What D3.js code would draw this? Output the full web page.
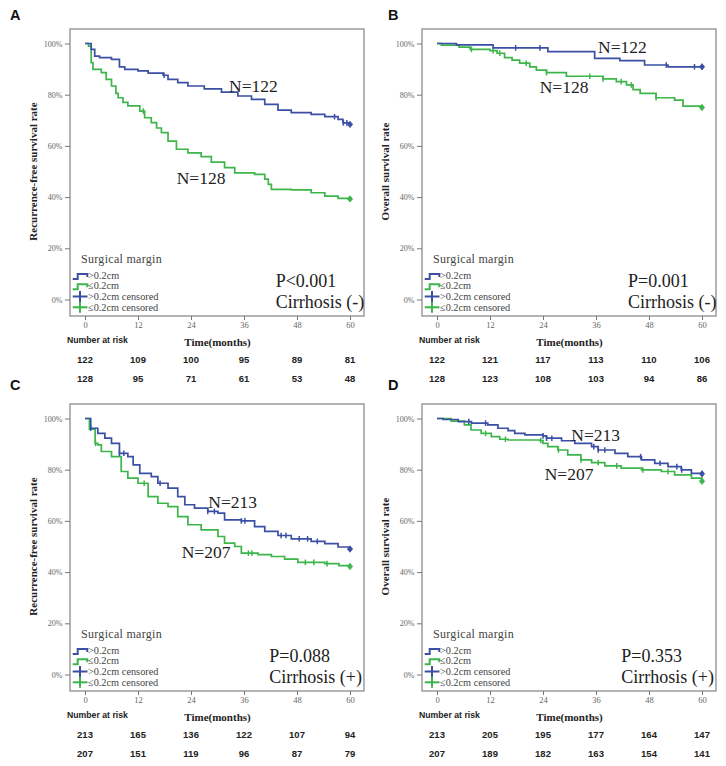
<!DOCTYPE html>
<html><head><meta charset="utf-8">
<script src="https://cdn.jsdelivr.net/npm/d3@7"></script>
<style>
html,body{margin:0;padding:0;background:#fff;}
svg{display:block;}
</style></head>
<body>
<svg id="chart" width="726" height="766"></svg>
<script>
// ---------- DATA ----------
const xTicks = [0, 12, 24, 36, 48, 60];
const yTicks = [0, 20, 40, 60, 80, 100];
const legendLabels = [">0.2cm", "\u22640.2cm", ">0.2cm censored", "\u22640.2cm censored"];

// Survival step curves [time (months), survival %]
const A_blue = [[0,100],[1.4,97.7],[2.2,95.1],[3.3,94.5],[6,93.8],[7.8,90.9],[9,89.9],[12,89.3],[14.3,88.4],[17.7,87.6],[18.8,86],[21,84.7],[23.3,83.4],[27,82.3],[30.9,81],[34.6,79.5],[37.7,78.2],[40.7,76.2],[43.7,74],[46.7,73],[51.2,72.3],[54.3,71.4],[57.3,70.4],[58.4,69],[60,68.4]];
const A_green = [[0,100],[0.8,99],[1.4,92.5],[1.8,89.9],[3.7,88.6],[4.8,86],[6,83.4],[7,80.5],[7.5,78.8],[8.6,77],[9.7,75.6],[12.4,73.6],[13.5,71],[15,69.1],[16.2,67],[17.3,65.2],[18.8,61.9],[20.7,58.7],[23.3,57.3],[26.3,55.8],[28.6,53.7],[31.6,51.5],[33.9,49.5],[38.4,48.9],[40.7,47],[41.5,45],[42.2,43],[46.7,42.8],[51.2,41.7],[54.3,40.4],[57.3,39.5],[60,39.3]];
const B_blue = [[0,100],[4.4,99.5],[12.7,98.3],[25.1,96.8],[35.7,94.2],[41.4,93.3],[47,91.6],[52.3,90.9],[60,90.9]];
const B_green = [[0,100],[1,99.4],[5,98.6],[7.5,97.7],[12,97.2],[13.6,96.2],[15.3,94.5],[17,93.5],[18.7,92.3],[21,90.9],[22.5,89.6],[24.8,88.6],[29.3,87.2],[37.6,86.2],[40.6,85.1],[42.9,83.8],[44.4,82],[46,80.5],[49.6,78.8],[53.8,77.9],[55.7,75.5],[60,75]];
const C_blue = [[0,100],[1.3,96.2],[2.9,94.2],[4.5,92.3],[6,90.3],[7.8,86.4],[9.7,85.1],[10.9,81.9],[12.4,78.6],[15,77.3],[16.5,74.7],[18.8,72.8],[21,69.5],[22.6,66.3],[24.8,65],[27.8,63.7],[30.1,63],[31.6,60.4],[35.4,60],[38.4,57.8],[40.7,55.9],[43.7,54.3],[46.7,53],[51.2,52],[54.3,51.1],[57.3,49.8],[60,49]];
const C_green = [[0,100],[1,95.8],[2.3,90.3],[2.9,89.7],[3.7,87.1],[6,85.1],[8.2,79.3],[9.7,76.7],[12,74.7],[14.3,69.5],[16.5,66.9],[18.8,65.6],[21,61.7],[23.3,58.5],[26.3,56.5],[30.1,53.9],[31.6,51.3],[33.9,50],[35.4,47.4],[39.2,46.8],[42.2,46.1],[45.2,45.1],[48.2,43.8],[54.3,43.3],[57.5,42.5],[60,42.2]];
const D_blue = [[0,100],[1.4,99.6],[4.8,98.8],[7.8,98.2],[11.5,97.5],[13.8,96.2],[16.1,95.3],[17.6,94.2],[19.9,93.6],[24,93.2],[24.8,92.3],[28.2,91.3],[31.2,90.3],[35,89],[36.5,87.7],[40.3,86.4],[43.2,85.1],[46.3,83.8],[49.3,82.5],[52.3,81.2],[55.3,79.9],[57.6,78.6],[60,78.4]];
const D_green = [[0,100],[3.2,99],[6.2,97.5],[7.7,95.5],[10,94.2],[12.3,92.9],[14.2,91.9],[16.1,91.6],[23.2,91.4],[24,90.3],[25.1,89],[27.4,87.7],[29.6,85.8],[32.6,83.8],[35,82.8],[38,81.5],[41.7,80.6],[46.3,79.9],[50.8,79.3],[53.8,78],[57.6,76.7],[60,75.5]];

// Censoring times (months)
const A_blue_c = [17.9, 56.5, 58.5, 59.3, 60];
const A_green_c = [13.2, 60];
const B_blue_c = [17.8, 23.3, 51.9, 58.3, 60];
const B_green_c = [7.8, 12.7, 14.2, 20.2, 24.8, 34.6, 37.6, 41.7, 44, 49.6, 60];
const C_blue_c = [1.3, 7.8, 8.8, 17, 27.8, 29.3, 35.4, 36.2, 44.4, 45.5, 48.5, 50.4, 52.6, 60];
const C_green_c = [2.4, 13.4, 37, 37.8, 49.9, 51.8, 54.8, 60];
const D_blue_c = [7.2, 11, 24, 24.8, 26, 35.5, 36.5, 38, 46.1, 50.5, 54.3, 55.4, 60];
const D_green_c = [11, 15.5, 23.5, 27.5, 32.6, 36.5, 40.7, 46.6, 52.3, 60];

// Number at risk
const A_risk_blue = [122, 109, 100, 95, 89, 81];
const A_risk_green = [128, 95, 71, 61, 53, 48];
const B_risk_blue = [122, 121, 117, 113, 110, 106];
const B_risk_green = [128, 123, 108, 103, 94, 86];
const C_risk_blue = [213, 165, 136, 122, 107, 94];
const C_risk_green = [207, 151, 119, 96, 87, 79];
const D_risk_blue = [213, 205, 195, 177, 164, 147];
const D_risk_green = [207, 189, 182, 163, 154, 141];

const panelLetters = ["A", "B", "C", "D"];
const yLabels = ["Recurrence-free survival rate", "Overall survival rate", "Recurrence-free survival rate", "Overall survival rate"];
const pValues = ["P<0.001", "P=0.001", "P=0.088", "P=0.353"];
const cirrhosis = ["Cirrhosis (-)", "Cirrhosis (-)", "Cirrhosis (+)", "Cirrhosis (+)"];

// ---------- LAYOUT ----------
const BLUE = "#3b4fa5", GREEN = "#3cb54a";
const serif = "'Liberation Serif','Times New Roman',serif";
const sans = "'Liberation Sans',Arial,sans-serif";

const panels = [
  {letter: panelLetters[0], ox: 70, oy: 29, lx: 10, ly: 20, blue: A_blue, green: A_green, bc: A_blue_c, gc: A_green_c, rb: A_risk_blue, rg: A_risk_green, yl: yLabels[0], p: pValues[0], cz: cirrhosis[0], nb: [159, 62.5], ng: [106.7, 155], px: 205.7},
  {letter: panelLetters[1], ox: 422, oy: 29, lx: 388, ly: 20, blue: B_blue, green: B_green, bc: B_blue_c, gc: B_green_c, rb: B_risk_blue, rg: B_risk_green, yl: yLabels[1], p: pValues[1], cz: cirrhosis[1], nb: [176, 24.3], ng: [117.7, 63.7], px: 206},
  {letter: panelLetters[2], ox: 70, oy: 404, lx: 10, ly: 390, blue: C_blue, green: C_green, bc: C_blue_c, gc: C_green_c, rb: C_risk_blue, rg: C_risk_green, yl: yLabels[2], p: pValues[2], cz: cirrhosis[2], nb: [138.3, 104.3], ng: [111.7, 154.3], px: 199.3},
  {letter: panelLetters[3], ox: 422, oy: 404, lx: 388, ly: 390, blue: D_blue, green: D_green, bc: D_blue_c, gc: D_green_c, rb: D_risk_blue, rg: D_risk_green, yl: yLabels[3], p: pValues[3], cz: cirrhosis[3], nb: [149.3, 37], ng: [122.7, 76], px: 199.3}
];

const FW = 294, FH = 287;
const svg = d3.select("#chart");

function stepValue(curve, t) {
  let v = curve[0][1];
  for (const d of curve) { if (d[0] <= t) v = d[1]; }
  return v;
}

panels.forEach(P => {
  const g = svg.append("g");
  const x = d3.scaleLinear().domain([0, 60]).range([P.ox + 15, P.ox + 280]);
  const y = d3.scaleLinear().domain([0, 100]).range([P.oy + 270.5, P.oy + 14.5]);

  // panel letter
  g.append("text").attr("x", P.lx).attr("y", P.ly).text(P.letter)
    .attr("font-family", sans).attr("font-weight", "bold").attr("font-size", 14.5).attr("fill", "#111");

  // frame
  g.append("rect").attr("x", P.ox).attr("y", P.oy).attr("width", FW).attr("height", FH)
    .attr("fill", "#fff").attr("stroke", "#8c8c8c").attr("stroke-width", 1.3);

  // y axis
  const yAxis = d3.axisLeft(y).tickValues(yTicks).tickSize(5).tickFormat(d => d + "%");
  const ya = g.append("g").attr("transform", `translate(${P.ox},0)`).call(yAxis);
  ya.select(".domain").remove();
  ya.selectAll("line").attr("stroke", "#777").attr("stroke-width", 1);
  ya.selectAll("text").attr("font-family", serif).attr("font-size", 8).attr("fill", "#666").attr("dx", 0.5);

  // x axis
  const xAxis = d3.axisBottom(x).tickValues(xTicks).tickSize(4).tickFormat(d3.format("d"));
  const xa = g.append("g").attr("transform", `translate(0,${P.oy + FH})`).call(xAxis);
  xa.select(".domain").remove();
  xa.selectAll("line").attr("stroke", "#777").attr("stroke-width", 1);
  xa.selectAll("text").attr("font-family", serif).attr("font-size", 8.5).attr("fill", "#666").attr("dy", "0.55em");

  // y label
  const ymid = (y(0) + y(100)) / 2;
  g.append("text").attr("transform", `translate(${P.ox - 33.5},${ymid}) rotate(-90)`)
    .attr("text-anchor", "middle").text(P.yl)
    .attr("font-family", serif).attr("font-weight", "bold").attr("font-size", 11).attr("fill", "#222");

  // curves
  const line = d3.line().x(d => x(d[0])).y(d => y(d[1])).curve(d3.curveStepAfter);
  [[P.green, GREEN, P.gc], [P.blue, BLUE, P.bc]].forEach(([curve, col, cens]) => {
    g.append("path").datum(curve).attr("d", line).attr("fill", "none")
      .attr("stroke", col).attr("stroke-width", 1.7).attr("stroke-linejoin", "miter");
    cens.forEach(t => {
      const cx = x(t), cy = y(stepValue(curve, t));
      if (t >= 60) {
        g.append("path").attr("d", `M${cx},${cy - 3.2}L${cx + 2.6},${cy}L${cx},${cy + 3.2}L${cx - 2.6},${cy}Z`)
          .attr("fill", col).attr("stroke", col).attr("stroke-width", 0.8);
      } else {
        g.append("line").attr("x1", cx).attr("x2", cx).attr("y1", cy - 2.8).attr("y2", cy + 2.8)
          .attr("stroke", col).attr("stroke-width", 1.5);
      }
    });
  });

  // N labels
  g.append("text").attr("x", P.ox + P.nb[0]).attr("y", P.oy + P.nb[1]).text("N=" + P.rb[0])
    .attr("font-family", serif).attr("font-size", 17.5).attr("fill", "#222");
  g.append("text").attr("x", P.ox + P.ng[0]).attr("y", P.oy + P.ng[1]).text("N=" + P.rg[0])
    .attr("font-family", serif).attr("font-size", 17.5).attr("fill", "#222");

  // P value & cirrhosis
  g.append("text").attr("x", P.ox + P.px).attr("y", P.oy + 258).text(P.p)
    .attr("font-family", serif).attr("font-size", 18).attr("fill", "#222");
  g.append("text").attr("x", P.ox + P.px).attr("y", P.oy + 278.7).text(P.cz)
    .attr("font-family", serif).attr("font-size", 18).attr("fill", "#222");

  // legend
  const lx0 = P.ox;
  g.append("text").attr("x", lx0 + 11).attr("y", P.oy + 234).text("Surgical margin")
    .attr("font-family", serif).attr("font-size", 12).attr("letter-spacing", 0.3).attr("fill", "#444");
  const itemY = [250, 260.3, 271, 281.8];
  legendLabels.forEach((lab, i) => {
    const by = P.oy + itemY[i];
    const col = (i % 2 === 0) ? BLUE : GREEN;
    if (i < 2) {
      g.append("path").attr("d", `M${lx0 + 2.7},${by} H${lx0 + 7.7} V${by - 5} H${lx0 + 17.3} V${by - 2}`)
        .attr("fill", "none").attr("stroke", col).attr("stroke-width", 2);
    } else {
      g.append("line").attr("x1", lx0 + 2.7).attr("x2", lx0 + 17.5).attr("y1", by - 3.5).attr("y2", by - 3.5)
        .attr("stroke", col).attr("stroke-width", 2);
      g.append("line").attr("x1", lx0 + 10).attr("x2", lx0 + 10).attr("y1", by - 9).attr("y2", by + 2)
        .attr("stroke", col).attr("stroke-width", 2);
    }
    g.append("text").attr("x", lx0 + 18).attr("y", by).text(lab)
      .attr("font-family", serif).attr("font-size", 10.3).attr("fill", "#444");
  });

  // bottom: number at risk + time label
  const base = P.oy + FH;
  g.append("text").attr("x", P.ox - 3).attr("y", base + 27.3).text("Number at risk")
    .attr("font-family", sans).attr("font-weight", "bold").attr("font-size", 8.7).attr("fill", "#222");
  g.append("text").attr("x", (x(0) + x(60)) / 2).attr("y", base + 29.7).attr("text-anchor", "middle")
    .text("Time(months)").attr("font-family", serif).attr("font-weight", "bold").attr("font-size", 11).attr("fill", "#222");
  [[P.rb, 47], [P.rg, 66]].forEach(([row, dy]) => {
    g.selectAll(null).data(row).enter().append("text")
      .attr("x", (d, i) => x(xTicks[i])).attr("y", base + dy).attr("text-anchor", "middle")
      .text(d => d).attr("font-family", sans).attr("font-weight", "bold").attr("font-size", 9.5).attr("fill", "#222");
  });
});
</script>
</body></html>
